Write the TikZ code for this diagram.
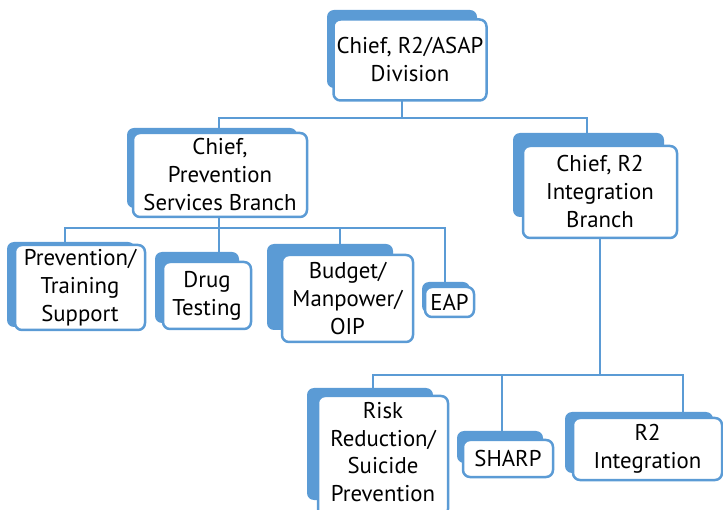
\documentclass[tikz,border=0pt]{standalone}
\usepackage{fontspec}
\setmainfont{PT Sans}
\definecolor{bl}{HTML}{5B9BD5}
\begin{document}
\begin{tikzpicture}[x=1pt,y=-1pt,
  box/.style={draw=bl, line width=2.5pt, fill=white, rounded corners=7pt, align=center, inner sep=0pt, font=\fontsize{22.8}{28}\selectfont},
  shad/.style={fill=bl, rounded corners=7pt},
  conn/.style={draw=bl, line width=2pt}]
\useasboundingbox (0,0) rectangle (723,510);
% frames of the boxes (for connector anchors)
\node[minimum width=153, minimum height=81, inner sep=0pt] (top) at (410,60) {};
\node[minimum width=174, minimum height=84, inner sep=0pt] (psb) at (220,175) {};
\node[minimum width=154, minimum height=92, inner sep=0pt] (r2b) at (600,192) {};
\node[minimum width=130, minimum height=85, inner sep=0pt] (pts) at (80,287.5) {};
\node[minimum width=88, minimum height=67, inner sep=0pt] (drug) at (207,295.5) {};
\node[minimum width=131, minimum height=87, inner sep=0pt] (bud) at (347.5,298.5) {};
\node[minimum width=49, minimum height=30, inner sep=0pt] (eap) at (449.5,302) {};
\node[minimum width=130, minimum height=120, inner sep=0pt] (risk) at (383,460) {};
\node[minimum width=90, minimum height=37, inner sep=0pt] (sharp) at (508,458.5) {};
\node[minimum width=149, minimum height=62, inner sep=0pt] (r2i) at (647.5,449) {};
\coordinate (a0) at (402,118);
\coordinate (a1) at (219,118);
\coordinate (a2) at (587,118);
\coordinate (b0) at (219,228);
\coordinate (b1) at (65,228);
\coordinate (b2) at (340,228);
\coordinate (b3) at (445,228);
\coordinate (c0) at (600,375);
\coordinate (c1) at (373,375);
\coordinate (c2) at (502,375);
\coordinate (c3) at (683,375);
\draw[conn] (a0 |- top.south) -- (a0);
\draw[conn] (a1 |- psb.north) -- (a1) -- (a2) -- (a2 |- r2b.north);
\draw[conn] (b0 |- psb.south) -- (b0);
\draw[conn] (b1 |- pts.north) -- (b1) -- (b3) -- (b3 |- eap.north);
\draw[conn] (b2) -- (b2 |- bud.north);
\draw[conn] (b0) -- (b0 |- drug.north);
\draw[conn] (c0 |- r2b.south) -- (c0);
\draw[conn] (c1 |- risk.north) -- (c1) -- (c3) -- (c3 |- r2i.north);
\draw[conn] (c2) -- (c2 |- sharp.north);
% shadows
\fill[shad] (327,10) rectangle (477,88);
\fill[shad] (127,128) rectangle (297,208);
\fill[shad] (513,133) rectangle (664,217);
\fill[shad] (7,242) rectangle (135,327);
\fill[shad] (155,252) rectangle (239,323);
\fill[shad] (267,244) rectangle (393,330);
\fill[shad] (422,282) rectangle (470,313);
\fill[shad] (307,388) rectangle (433,500);
\fill[shad] (457,431) rectangle (543,463);
\fill[shad] (565,412) rectangle (713,473);
% boxes
\node[box, minimum width=153, minimum height=81] at (top) {Chief, R2/ASAP\\Division};
\node[box, minimum width=174, minimum height=84] at (psb) {Chief,\\Prevention\\Services Branch};
\node[box, minimum width=154, minimum height=92] at (r2b) {Chief, R2\\Integration\\Branch};
\node[box, minimum width=130, minimum height=85] at (pts) {Prevention/\\Training\\Support};
\node[box, minimum width=88, minimum height=67] at (drug) {Drug\\Testing};
\node[box, minimum width=131, minimum height=87] at (bud) {Budget/\\Manpower/\\OIP};
\node[box, minimum width=49, minimum height=30] at (eap) {EAP};
\node[box, minimum width=130, minimum height=120] at ([yshift=4]risk) {};
\node[align=center, inner sep=0pt, font=\fontsize{22.8}{27.5}\selectfont] (risktext) at ([yshift=8]risk) {Risk\\Reduction/\\Suicide\\Prevention};
\node[box, minimum width=90, minimum height=37] at (sharp) {SHARP};
\node[box, minimum width=149, minimum height=62] at (r2i) {R2\\Integration};
\end{tikzpicture}
\end{document}
